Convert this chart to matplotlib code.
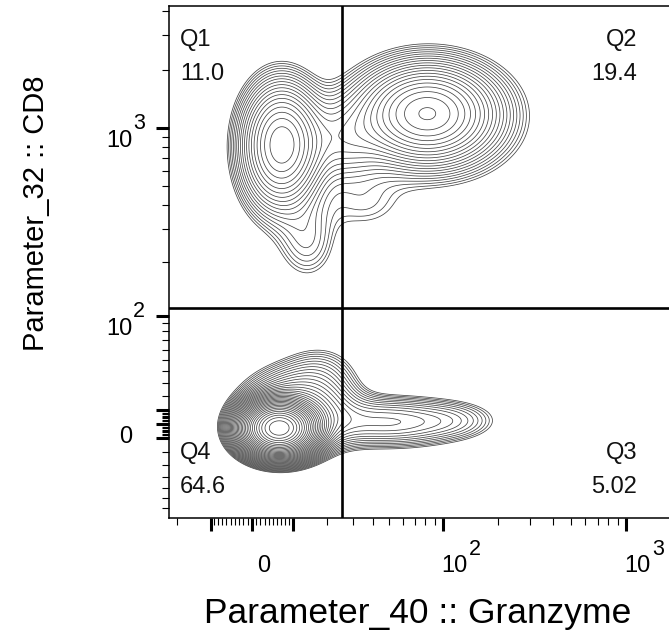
import numpy as np
import matplotlib
matplotlib.use("Agg")
import matplotlib.pyplot as plt

plt.rcParams["font.family"] = ["Liberation Sans", "DejaVu Sans"]

# ---------------- data ----------------
x_title = "Parameter_40 :: Granzyme"
y_title = "Parameter_32 :: CD8"

quadrant_names = ["Q1", "Q2", "Q3", "Q4"]
quadrant_percent = ["11.0", "19.4", "5.02", "64.6"]

gate_granzyme = 25.5
gate_cd8 = 111.0

# cell populations: centre intensities, spread on the display scale, relative peak density
pop_granzyme = [6.4, 11.8, 18.0, 49.8, 120.0, 7.1, 6.5, 14.0, 81.6, 86.0, 26.3, 35.2]
pop_cd8 = [-3.0, 10.0, 41.0, 1.4, 2.8, 836.0, 725.0, 255.0, 1194.0, 1126.0, 867.0, 400.0]
pop_spread_x = [0.225, 0.375, 0.28, 0.56, 0.33, 0.27, 0.30, 0.24, 0.44, 0.63, 0.31, 0.375]
pop_spread_y = [0.155, 0.26, 0.20, 0.17, 0.14, 0.39, 0.48, 0.30, 0.30, 0.42, 0.30, 0.24]
pop_weight = [2.2, 0.10, 0.012, 0.045, 0.012, 0.12, 0.035, 0.016, 0.15, 0.04, 0.03, 0.01]

x_limits = (-22.8, 1709.0)
y_limits = (-81.6, 4249.0)

x_labelled = [0, 100, 1000]
y_labelled = [0, 100, 1000]
tick_text = [("0", ""), ("10", "2"), ("10", "3")]
x_heavy = [-10, 10]
y_heavy = [-10, 10]
x_minor = ([-20] + list(range(-9, 0)) + list(range(1, 10))
           + [20, 30, 40, 50, 60, 70, 80, 90]
           + [200, 300, 400, 500, 600, 700, 800, 900])
y_minor = ([-70, -60, -50, -40, -30, -20] + list(range(-9, 0)) + list(range(1, 10))
           + [20, 30, 40, 50, 60, 70, 80, 90]
           + [200, 300, 400, 500, 600, 700, 800, 900, 2000, 3000, 4000])

# ---------------- biexponential-like display scales ----------------
X_W = 18.5
Y_W = 60.0


def fx(v):
    return np.arcsinh(np.asarray(v, dtype=float) / X_W)


def ix(u):
    return X_W * np.sinh(np.asarray(u, dtype=float))


def fy(v):
    return np.arcsinh(np.asarray(v, dtype=float) / Y_W)


def iy(u):
    return Y_W * np.sinh(np.asarray(u, dtype=float))


# ---------------- figure ----------------
W_PX, H_PX = 669, 640
fig = plt.figure(figsize=(W_PX / 100, H_PX / 100), dpi=100)
ax = fig.add_axes([169 / W_PX, (H_PX - 518) / H_PX, 500 / W_PX, 512 / H_PX])
ax.set_xscale("function", functions=(fx, ix))
ax.set_yscale("function", functions=(fy, iy))
ax.set_xlim(*x_limits)
ax.set_ylim(*y_limits)

# density surface on the display scale
u = np.linspace(fx(x_limits[0]), fx(x_limits[1]), 800)
w = np.linspace(fy(y_limits[0]), fy(y_limits[1]), 800)
U, Wg = np.meshgrid(u, w)
Z = np.zeros_like(U)
for gx, cy, sx, sy, a in zip(pop_granzyme, pop_cd8, pop_spread_x, pop_spread_y, pop_weight):
    Z += a * np.exp(-0.5 * ((U - fx(gx)) / sx) ** 2 - 0.5 * ((Wg - fy(cy)) / sy) ** 2)

levels = 0.008 * 1.17 ** np.arange(0, 45)
levels = levels[levels < Z.max()]
ax.contour(ix(U), iy(Wg), Z, levels=levels, colors="#444444", linewidths=0.55)

# quadrant gate
ax.axvline(gate_granzyme, color="black", lw=1.9, zorder=5)
ax.axhline(gate_cd8, color="black", lw=1.9, zorder=5)

# frame
for side in ["left", "bottom", "top"]:
    ax.spines[side].set_linewidth(1.1)
ax.spines["right"].set_visible(False)

# ticks
ax.set_xticks(x_labelled + x_heavy)
ax.set_yticks(y_labelled + y_heavy)
ax.set_xticks(x_minor, minor=True)
ax.set_yticks(y_minor, minor=True)
ax.set_xticklabels([])
ax.set_yticklabels([])
ax.tick_params(which="major", direction="out", length=9.4, width=2.2, color="black")
ax.tick_params(which="minor", direction="out", length=5.0, width=0.8, color="black")
ax.tick_params(top=False, right=False)

TICK_FS = 17
SUP_FS = 15.5

# x tick labels
xt = ax.get_xaxis_transform()
for v, (base, sup) in zip(x_labelled, tick_text):
    if sup:
        ax.annotate(base, xy=(v, 0), xycoords=xt, xytext=(-2, -54), textcoords="offset pixels",
                    ha="left", va="baseline", fontsize=TICK_FS, annotation_clip=False)
        ax.annotate(sup, xy=(v, 0), xycoords=xt, xytext=(26, -37), textcoords="offset pixels",
                    ha="left", va="baseline", fontsize=SUP_FS, annotation_clip=False)
    else:
        ax.annotate(base, xy=(v, 0), xycoords=xt, xytext=(5, -54), textcoords="offset pixels",
                    ha="left", va="baseline", fontsize=TICK_FS, annotation_clip=False)

# y tick labels
yt = ax.get_yaxis_transform()
for v, (base, sup) in zip(y_labelled, tick_text):
    ax.annotate(base, xy=(0, v), xycoords=yt, xytext=(-37, -19), textcoords="offset pixels",
                ha="right", va="baseline", fontsize=TICK_FS, annotation_clip=False)
    if sup:
        ax.annotate(sup, xy=(0, v), xycoords=yt, xytext=(-36, -1), textcoords="offset pixels",
                    ha="left", va="baseline", fontsize=SUP_FS, annotation_clip=False)

# quadrant statistics
ta = ax.transAxes
q_pos = [((0, 1), (11, -40), (11, -74), "left"),
         ((1, 1), (-32, -40), (-32, -74), "right"),
         ((1, 0), (-32, 59), (-32, 25), "right"),
         ((0, 0), (11, 59), (11, 25), "left")]
for name, pct, (anchor, off1, off2, ha) in zip(quadrant_names, quadrant_percent, q_pos):
    ax.annotate(name, xy=anchor, xycoords=ta, xytext=off1, textcoords="offset pixels",
                ha=ha, va="baseline", fontsize=TICK_FS, color="#111111")
    ax.annotate(pct, xy=anchor, xycoords=ta, xytext=off2, textcoords="offset pixels",
                ha=ha, va="baseline", fontsize=TICK_FS, color="#111111")

# axis titles
fig.text(418 / W_PX, 1 - 623 / H_PX, x_title, ha="center", va="baseline", fontsize=25.5)
fig.text(36 / W_PX, 1 - 213 / H_PX, y_title, ha="center", va="center", rotation=90,
         rotation_mode="anchor", fontsize=21)

fig.savefig("out.png", dpi=100)
